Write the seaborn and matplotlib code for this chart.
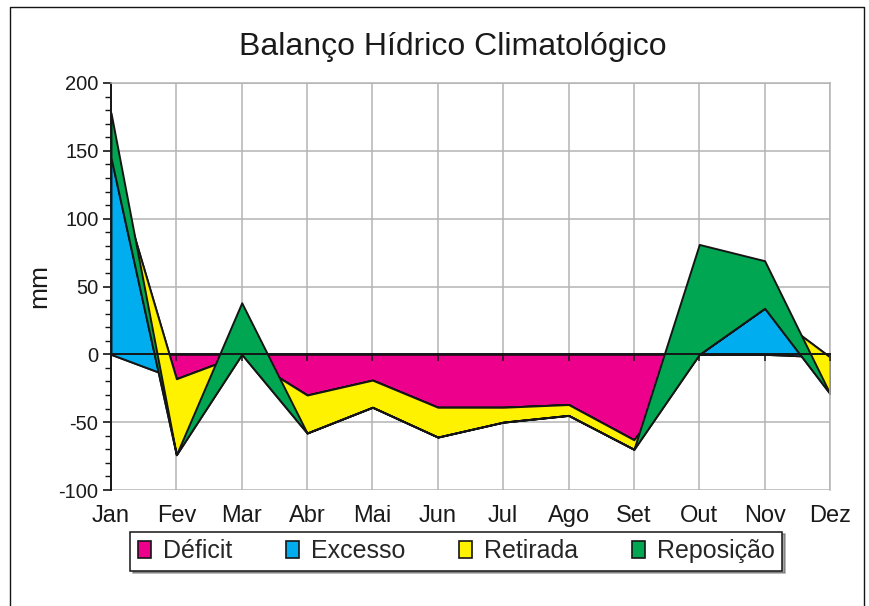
import matplotlib
matplotlib.use("Agg")
import numpy as np
import matplotlib.pyplot as plt
import seaborn as sns
from matplotlib.patches import Patch
from matplotlib.lines import Line2D
from matplotlib.ticker import MultipleLocator

# water balance, mm per month
months = ["Jan", "Fev", "Mar", "Abr", "Mai", "Jun", "Jul", "Ago", "Set", "Out", "Nov", "Dez"]
deficit = [0, 18, 0, 30, 19, 39, 39, 37, 63, 0, 0, 2]
excesso = [145, 0, 0, 0, 0, 0, 0, 0, 0, 0, 34, 0]
retirada = [0, 56, 0, 28, 20, 22, 11, 8, 7, 0, 0, 27]
reposicao = [33, 0, 38, 0, 0, 0, 0, 0, 0, 81, 35, 0]

labels = ["Déficit", "Excesso", "Retirada", "Reposição"]
colors = ["#EC008C", "#00AEEF", "#FFF200", "#00A651"]

sns.set_theme(style="white")
plt.rcParams["font.family"] = ["Liberation Sans", "DejaVu Sans"]
plt.rcParams["axes.unicode_minus"] = False

fig = plt.figure(figsize=(8.7, 6.06), dpi=100)
ax = fig.add_axes([111 / 870, 1 - 490 / 606, (830 - 111) / 870, (490 - 83) / 606])

x = np.arange(len(months))
# stacked areas, deficit and retirada are drawn below zero
ax.stackplot(x, -np.array(deficit), excesso, -np.array(retirada), reposicao,
             colors=colors, edgecolor="#151515", linewidth=1.4)

ymin, ymax = -100, 200
ax.set_xlim(0, len(months) - 1)
ax.set_ylim(ymin, ymax)
ax.set_xticks(x)
ax.yaxis.set_major_locator(MultipleLocator(50))
ax.yaxis.set_minor_locator(MultipleLocator(10))
ax.set_axisbelow(True)
ax.grid(True, which="major", color="#b4b4b4", linewidth=1.1)

for s in ["top", "right"]:
    ax.spines[s].set_color("#b4b4b4")
    ax.spines[s].set_linewidth(1.1)
ax.spines["bottom"].set_visible(False)
ax.spines["left"].set_color("#151515")
ax.spines["left"].set_linewidth(1.4)

ax.tick_params(axis="x", bottom=False, labelbottom=False)
ax.tick_params(axis="y", which="major", left=True, direction="out", length=6,
               width=1.2, color="#151515", labelsize=14.5, pad=3)
ax.tick_params(axis="y", which="minor", left=True, direction="out", length=4,
               width=1.0, color="#151515")
for t in ax.get_yticklabels():
    t.set_color("#1a1a1a")

# zero line with month ticks, drawn above the areas
zero_ax = ax.secondary_xaxis((0 - ymin) / (ymax - ymin))
zero_ax.set_xticks(x, labels=[""] * len(months))
zero_ax.tick_params(direction="out", length=5, width=1.1, color="#151515")
zero_ax.spines["bottom"].set_color("#151515")
zero_ax.spines["bottom"].set_linewidth(1.4)
zero_ax.set_zorder(3)

# month labels at the bottom of the frame
lab_ax = ax.secondary_xaxis("bottom")
lab_ax.set_xticks(x, labels=months)
lab_ax.tick_params(length=0, labelsize=17, pad=11, colors="#1a1a1a")
lab_ax.spines["bottom"].set_visible(False)

ax.set_ylabel("mm", fontsize=19, color="#1a1a1a", labelpad=5)

fig.text(0.52, 1 - 47 / 606, "Balanço Hídrico Climatológico", ha="center", va="center",
         fontsize=23, color="#1a1a1a")

handles = [Patch(facecolor=c, edgecolor="#151515", linewidth=1.2, label=l)
           for c, l in zip(colors, labels)]
leg = fig.legend(handles=handles, loc="center", bbox_to_anchor=(456 / 870, 1 - 551 / 606),
                 ncol=4, fontsize=18, frameon=True, fancybox=False, shadow=True,
                 edgecolor="#151515", handlelength=0.55, handleheight=0.7,
                 handletextpad=0.45, columnspacing=2.15, borderpad=0.3)
leg.get_frame().set_linewidth(1.1)

# outer frame of the picture
fig.add_artist(Line2D([10 / 870, 10 / 870, 864 / 870, 864 / 870], [0, 1 - 7 / 606, 1 - 7 / 606, 0],
                      transform=fig.transFigure, color="#151515", linewidth=1.0))

fig.savefig("out.png", dpi=100)
